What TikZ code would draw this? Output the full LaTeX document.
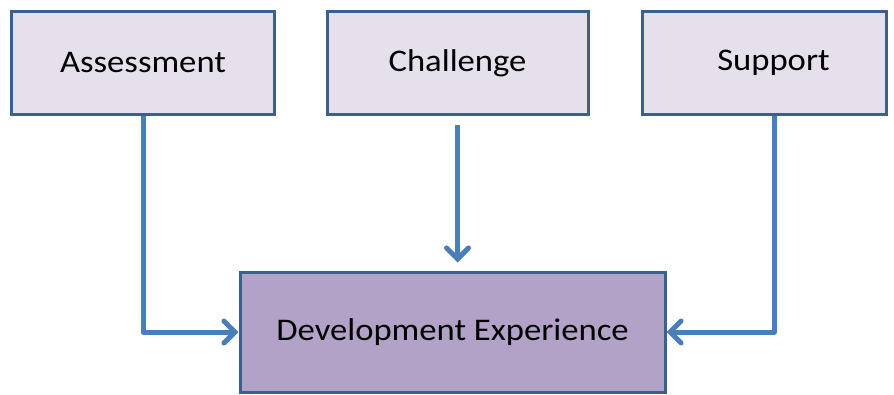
\documentclass[tikz,border=0pt]{standalone}
\usepackage{fontspec}
\setmainfont{Carlito}[FakeStretch=1.1]
\usetikzlibrary{positioning,arrows.meta}
\definecolor{BoxLine}{RGB}{60, 96, 142}
\definecolor{LightLilac}{RGB}{230, 224, 236}
\definecolor{DarkLilac}{RGB}{179, 162, 199}
\definecolor{ArrowBlue}{RGB}{74, 126, 187}
\newcommand{\TopWidth}{263}
\newcommand{\TopHeight}{103}
\newcommand{\ArrowY}{332}

\begin{document}
\begin{tikzpicture}[x=1pt,y=-1pt]
  \tikzstyle{every node}=[font=\fontsize{31.5}{36}\selectfont]
  \tikzset{
    topbox/.style={draw=BoxLine, line width=3pt, fill=LightLilac, minimum height=\TopHeight pt, inner sep=0pt},
    devbox/.style={draw=BoxLine, line width=3pt, fill=DarkLilac, minimum width=425pt, minimum height=120pt, inner sep=0pt},
    flow/.style={draw=ArrowBlue, line width=5pt, line join=round, -{Straight Barb[length=11pt, width=22pt, line cap=round]}}
  }
  \useasboundingbox (0,0) rectangle (894,394);

  % Boxes
  \node[topbox, minimum width=\TopWidth pt] (assess) at (143,63) {Assessment};
  \node[topbox, minimum width=261pt] (challenge) at (457.5,63) {Challenge};
  \node[topbox, minimum width=244pt] (support) at (764,63) {\hspace*{19pt}Support};
  \node[devbox] (dev) at (452.5,332) {Development Experience};

  % Arrows
  \draw[flow] (assess.south) |- (dev.west);
  \draw[flow, shorten <=9pt, shorten >=8pt] (challenge.south) -- (challenge.south |- dev.north);
  \draw[flow] ([xshift=10pt]support.south) |- (dev.east);
\end{tikzpicture}
\end{document}
